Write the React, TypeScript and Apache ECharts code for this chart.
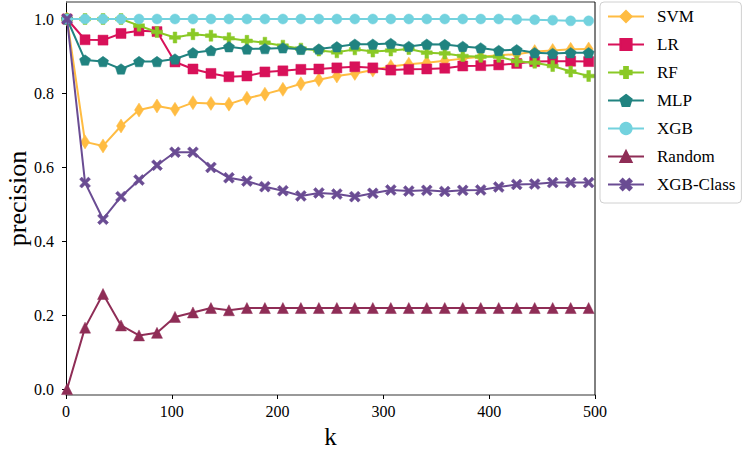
import React, { useEffect, useRef } from "react";
import * as echarts from "echarts";

const kValues = [1, 18, 35, 52, 69, 86, 103, 120, 137, 154, 171, 188, 205, 222, 239, 256, 273, 290, 307, 324, 341, 358, 375, 392, 409, 426, 443, 460, 477, 494];

const svm = [1.0, 0.668, 0.657, 0.711, 0.754, 0.765, 0.756, 0.774, 0.772, 0.770, 0.786, 0.797, 0.810, 0.825, 0.836, 0.846, 0.853, 0.862, 0.872, 0.878, 0.882, 0.887, 0.893, 0.898, 0.902, 0.905, 0.912, 0.915, 0.918, 0.919];
const lr = [1.0, 0.944, 0.943, 0.961, 0.968, 0.966, 0.884, 0.865, 0.853, 0.844, 0.846, 0.857, 0.860, 0.864, 0.865, 0.868, 0.871, 0.868, 0.862, 0.864, 0.865, 0.867, 0.873, 0.874, 0.876, 0.880, 0.885, 0.886, 0.886, 0.885];
const rf = [1.0, 1.0, 1.0, 1.0, 0.982, 0.965, 0.950, 0.959, 0.955, 0.948, 0.941, 0.936, 0.928, 0.920, 0.915, 0.910, 0.918, 0.912, 0.915, 0.919, 0.909, 0.907, 0.900, 0.898, 0.898, 0.886, 0.882, 0.873, 0.858, 0.846];
const mlp = [1.0, 0.889, 0.885, 0.865, 0.885, 0.885, 0.892, 0.909, 0.915, 0.925, 0.919, 0.920, 0.922, 0.918, 0.919, 0.925, 0.932, 0.932, 0.934, 0.926, 0.932, 0.931, 0.926, 0.922, 0.915, 0.917, 0.909, 0.907, 0.909, 0.909];
const xgb = [1.0, 1.0, 1.0, 1.0, 1.0, 1.0, 1.0, 1.0, 1.0, 1.0, 1.0, 1.0, 1.0, 1.0, 1.0, 1.0, 1.0, 1.0, 1.0, 1.0, 1.0, 1.0, 1.0, 1.0, 1.0, 0.999, 0.998, 0.997, 0.995, 0.995];
const randomP = [0.0, 0.166, 0.257, 0.172, 0.145, 0.152, 0.195, 0.207, 0.219, 0.213, 0.219, 0.219, 0.219, 0.219, 0.219, 0.219, 0.219, 0.219, 0.219, 0.219, 0.219, 0.219, 0.219, 0.219, 0.219, 0.219, 0.219, 0.219, 0.219, 0.219];
const xgbClass = [1.0, 0.558, 0.459, 0.520, 0.565, 0.605, 0.640, 0.640, 0.599, 0.571, 0.562, 0.547, 0.536, 0.522, 0.530, 0.527, 0.520, 0.529, 0.538, 0.535, 0.537, 0.534, 0.537, 0.538, 0.546, 0.553, 0.554, 0.558, 0.558, 0.558];

const seriesNames = ["SVM", "LR", "RF", "MLP", "XGB", "Random", "XGB-Class"];
const yTicks = [0, 0.2, 0.4, 0.6, 0.8, 1.0];
const xTicks = [0, 100, 200, 300, 400, 500];

const FONT = "Liberation Serif";

const PLUS = "path://M-1,-3H1V-1H3V1H1V3H-1V1H-3V-1H-1Z";
const PENTAGON = "path://M0,-1L0.951,-0.309L0.588,0.809L-0.588,0.809L-0.951,-0.309Z";
const XMARK = "path://M-3,-1.8L-1.8,-3L0,-1.2L1.8,-3L3,-1.8L1.2,0L3,1.8L1.8,3L0,1.2L-1.8,3L-3,1.8L-1.2,0Z";

export default function App() {
  const ref = useRef<HTMLDivElement>(null);
  useEffect(() => {
    if (!ref.current) return;
    const chart = echarts.init(ref.current, undefined, { renderer: "svg" });
    const values = [svm, lr, rf, mlp, xgb, randomP, xgbClass];
    const colors = ["#FFBC42", "#D81159", "#8AC926", "#218380", "#73D2DE", "#8F2D56", "#6A4C93"];
    const symbols: any[] = ["diamond", "rect", PLUS, PENTAGON, "circle", "triangle", XMARK];
    const sizes: any[] = [[9, 14], 10, 11, 11, 10, 11, 11];

    const left = 66, right = 595, top = 2, bottom = 395;

    const option: any = {
      animation: false,
      textStyle: { fontFamily: FONT },
      grid: { left, right: 747 - right, top, bottom: 449 - bottom, containLabel: false, outerBoundsMode: "none" },
      legend: {
        data: seriesNames,
        orient: "vertical",
        left: 600,
        top: 2,
        itemWidth: 36,
        itemHeight: 14,
        itemGap: 11,
        padding: [6, 6, 10, 7],
        borderColor: "#d0d0d0",
        borderWidth: 1,
        borderRadius: 4,
        backgroundColor: "#fff",
        textStyle: { fontFamily: FONT, fontSize: 17, color: "#000", padding: [0, 0, 0, 8], lineHeight: 14 },
      },
      xAxis: {
        type: "value",
        min: 0,
        max: 500,
        interval: 100,
        axisLine: { show: true, onZero: false, lineStyle: { color: "#777", width: 1.5 } },
        axisTick: { show: true, length: 4, lineStyle: { color: "#000" }, customValues: xTicks },
        axisLabel: { fontFamily: FONT, fontSize: 16, color: "#000", margin: 8, customValues: xTicks },
        splitLine: { show: false },
        name: "k",
        nameLocation: "middle",
        nameGap: 23,
        nameTextStyle: { fontFamily: FONT, fontSize: 25, color: "#000" },
      },
      yAxis: {
        type: "value",
        min: -0.016,
        max: 1.046,
        axisLine: { show: true, onZero: false, lineStyle: { color: "#000", width: 1 } },
        axisTick: { show: true, length: 4, lineStyle: { color: "#000" }, customValues: yTicks },
        axisLabel: {
          fontFamily: FONT,
          fontSize: 16,
          color: "#000",
          margin: 12,
          customValues: yTicks,
          formatter: (v: number) => v.toFixed(1),
        },
        splitLine: { show: false },
        name: "precision",
        nameLocation: "middle",
        nameGap: 36,
        nameMoveOverlap: false,
        nameRotate: 90,
        nameTextStyle: { fontFamily: FONT, fontSize: 26, color: "#000" },
      },
      graphic: [
        { type: "line", shape: { x1: left, y1: top, x2: right, y2: top }, style: { stroke: "#777", lineWidth: 1.5 }, z: 10 },
        { type: "line", shape: { x1: right, y1: top, x2: right, y2: bottom }, style: { stroke: "#000", lineWidth: 1 }, z: 10 },
      ],
      series: seriesNames.map((name, i) => ({
        name,
        type: "line",
        data: kValues.map((k, j) => [k, values[i][j]]),
        symbol: symbols[i],
        symbolSize: sizes[i],
        symbolKeepAspect: true,
        showAllSymbol: true,
        clip: true,
        lineStyle: { color: colors[i], width: 2 },
        itemStyle: { color: colors[i], borderColor: colors[i], borderWidth: 0.5 },
        emphasis: { disabled: true },
        z: 2 + i,
      })),
    };
    chart.setOption(option);
    return () => chart.dispose();
  }, []);
  return <div ref={ref} style={{ position: "fixed", left: 0, top: 0, width: 747, height: 449, background: "#fff" }} />;
}
